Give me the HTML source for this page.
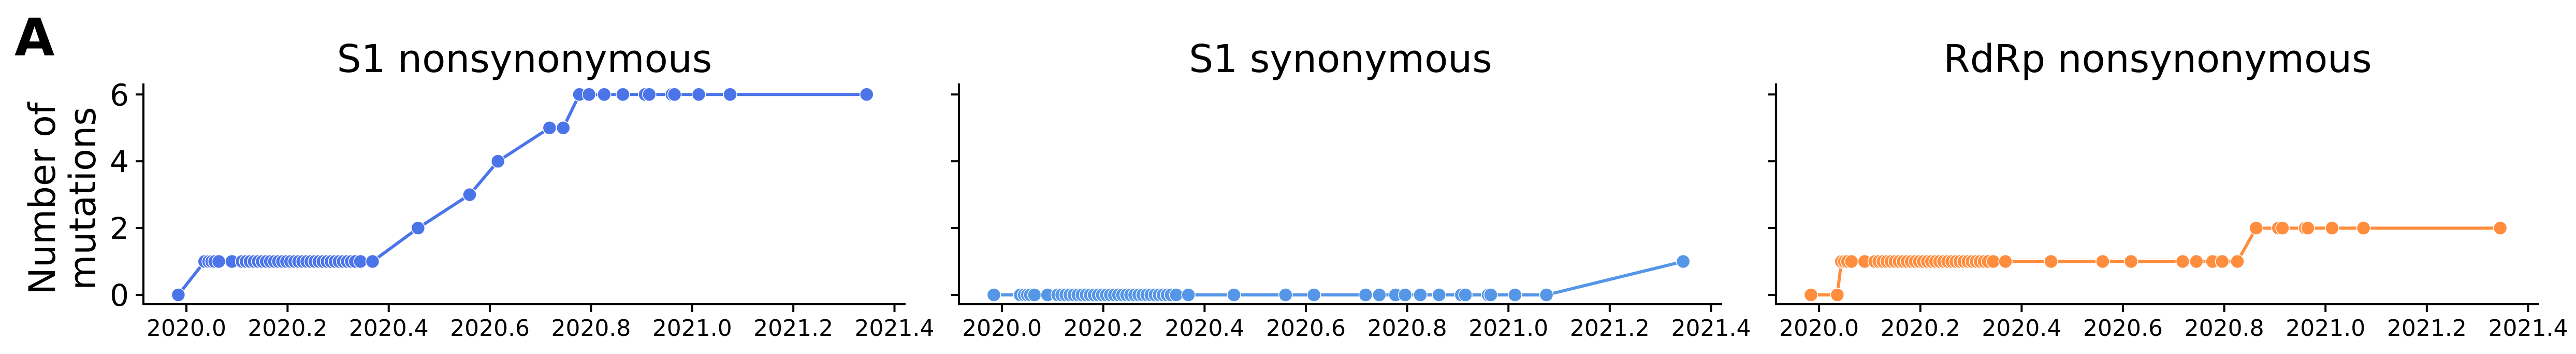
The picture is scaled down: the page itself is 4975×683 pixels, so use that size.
<!DOCTYPE html>
<html><head><meta charset="utf-8"><style>
html,body{margin:0;padding:0;background:#fff;}
svg{display:block;font-family:"DejaVu Sans","Liberation Sans",sans-serif;}
</style></head><body>
<svg id="fig" width="4975" height="683" viewBox="0 0 4975 683" xmlns="http://www.w3.org/2000/svg">
<text x="28" y="107" font-size="100" font-weight="bold">A</text>
<text transform="translate(106,383) rotate(-90)" text-anchor="middle" font-size="70">Number of</text>
<text transform="translate(184,383) rotate(-90)" text-anchor="middle" font-size="70">mutations</text>
</svg>
<script>
const dates = [2019.984, 2020.036, 2020.044, 2020.050, 2020.056, 2020.064, 2020.090,
  2020.110, 2020.118, 2020.126, 2020.134, 2020.142, 2020.150, 2020.158, 2020.166, 2020.174, 2020.182,
  2020.190, 2020.198, 2020.206, 2020.214, 2020.222, 2020.230, 2020.238, 2020.246, 2020.254, 2020.262,
  2020.270, 2020.278, 2020.286, 2020.294, 2020.302, 2020.310, 2020.318, 2020.326, 2020.334,
  2020.344, 2020.368, 2020.458, 2020.560, 2020.616, 2020.718, 2020.745, 2020.777, 2020.796,
  2020.826, 2020.863, 2020.907, 2020.915, 2020.960, 2020.965, 2021.013, 2021.075, 2021.345];
const s1NonsynValues = [0, 1, 1, 1, 1, 1, 1,
  1,1,1,1,1,1,1,1,1,1, 1,1,1,1,1,1,1,1,1,1, 1,1,1,1,1,1,1,1,1,
  1, 1, 2, 3, 4, 5, 5, 6, 6,
  6, 6, 6, 6, 6, 6, 6, 6, 6];
const s1SynValues = [0, 0, 0, 0, 0, 0, 0,
  0,0,0,0,0,0,0,0,0,0, 0,0,0,0,0,0,0,0,0,0, 0,0,0,0,0,0,0,0,0,
  0, 0, 0, 0, 0, 0, 0, 0, 0,
  0, 0, 0, 0, 0, 0, 0, 0, 1];
const rdrpNonsynValues = [0, 0, 1, 1, 1, 1, 1,
  1,1,1,1,1,1,1,1,1,1, 1,1,1,1,1,1,1,1,1,1, 1,1,1,1,1,1,1,1,1,
  1, 1, 1, 1, 1, 1, 1, 1, 1,
  1, 2, 2, 2, 2, 2, 2, 2, 2];
const xTicks = [2020.0, 2020.2, 2020.4, 2020.6, 2020.8, 2021.0, 2021.2, 2021.4];
const xTickLabels = ["2020.0","2020.2","2020.4","2020.6","2020.8","2021.0","2021.2","2021.4"];
const yTicks = [0, 2, 4, 6];
const yTickLabels = ["0","2","4","6"];
const panelTitles = ["S1 nonsynonymous", "S1 synonymous", "RdRp nonsynonymous"];

const NS = "http://www.w3.org/2000/svg";
const svg = document.getElementById('fig');
const panels = [
  {left:277, right:1749, color:"#4B74E8", vals:s1NonsynValues, name:"s1-nonsynonymous", showY:true},
  {left:1852, right:3326, color:"#5596E6", vals:s1SynValues, name:"s1-synonymous", showY:false},
  {left:3430, right:4904, color:"#FF8D3E", vals:rdrpNonsynValues, name:"rdrp-nonsynonymous", showY:false}
];
const plotTop = 161, plotBottom = 587;
const xMin = 2019.915, xMax = 2021.422, yMin = -0.28, yMax = 6.33;

function mk(tag, attrs, parent){
  const e = document.createElementNS(NS, tag);
  for (const k in attrs) e.setAttribute(k, attrs[k]);
  parent.appendChild(e);
  return e;
}

panels.forEach((p, pi) => {
  const xs = v => p.left + (v - xMin) / (xMax - xMin) * (p.right - p.left);
  const ys = v => plotBottom - (v - yMin) / (yMax - yMin) * (plotBottom - plotTop);
  const g = mk('g', {}, svg);
  
  

  const title = mk('text', {x:(p.left+p.right)/2, y:139, 'text-anchor':'middle', 'font-size':74}, g);
  title.textContent = panelTitles[pi];
  
  

  const ya = mk('line', {x1:p.left, y1:plotTop, x2:p.left, y2:plotBottom+2, stroke:'#000', 'stroke-width':4}, g);
  
  
  const xa = mk('line', {x1:p.left-2, y1:plotBottom, x2:p.right, y2:plotBottom, stroke:'#000', 'stroke-width':4}, g);
  
  

  yTicks.forEach((t, i) => {
    const y = ys(t);
    const tk = mk('line', {x1:p.left-15, y1:y, x2:p.left, y2:y, stroke:'#000', 'stroke-width':4}, g);
    
    
    if (p.showY) {
      const tl = mk('text', {x:p.left-28, y:y+21, 'text-anchor':'end', 'font-size':58}, g);
      tl.textContent = yTickLabels[i];
      
      
    }
  });
  xTicks.forEach((t, i) => {
    const x = xs(t);
    const tk = mk('line', {x1:x, y1:plotBottom, x2:x, y2:plotBottom+15, stroke:'#000', 'stroke-width':4}, g);
    
    
    const tl = mk('text', {x:x, y:648, 'text-anchor':'middle', 'font-size':44}, g);
    tl.textContent = xTickLabels[i];
    
    
  });

  const pts = dates.map((d, i) => xs(d).toFixed(1) + ',' + ys(p.vals[i]).toFixed(1)).join(' ');
  const line = mk('polyline', {points:pts, fill:'none', stroke:p.color, 'stroke-width':6, 'stroke-linejoin':'round'}, g);
  
  
  dates.forEach((d, i) => {
    const c = mk('circle', {cx:xs(d), cy:ys(p.vals[i]), r:13, fill:p.color, stroke:'#fff', 'stroke-width':1.5}, g);
    
    
  });
});
</script>
</body></html>
